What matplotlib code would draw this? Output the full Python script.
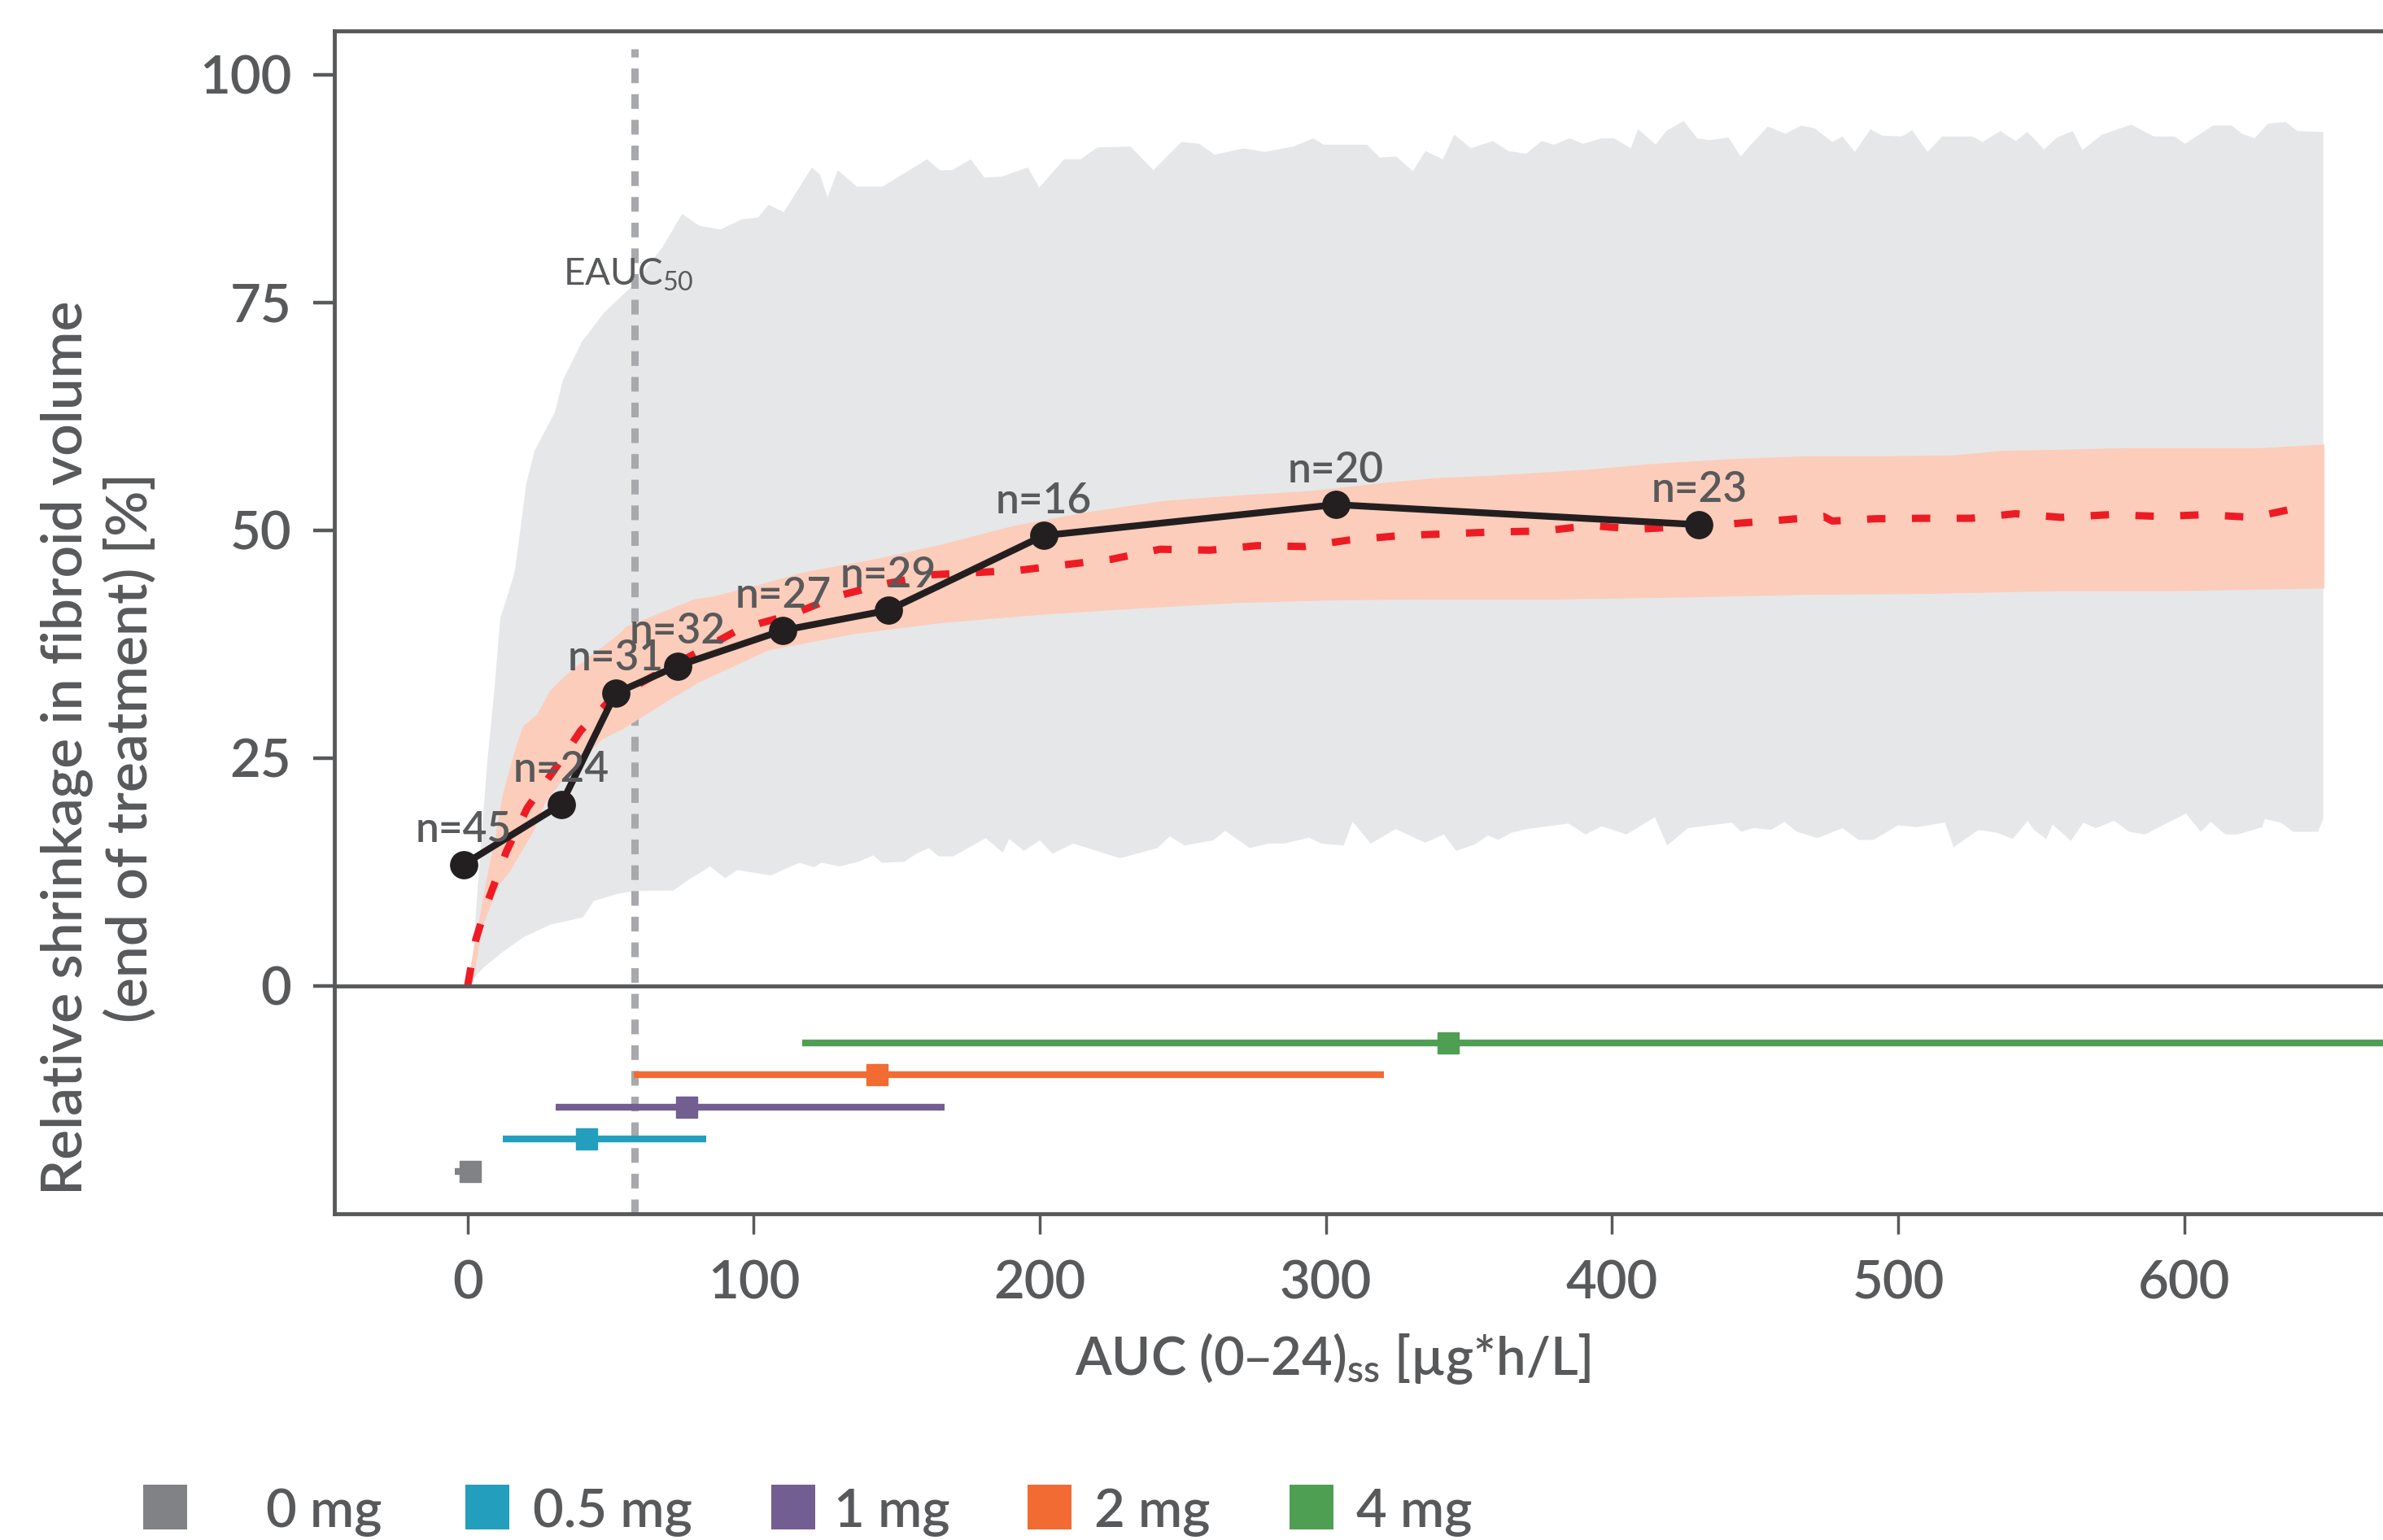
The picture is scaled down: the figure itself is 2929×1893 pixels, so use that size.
import numpy as np
import matplotlib
matplotlib.use("Agg")
import matplotlib.pyplot as plt
from matplotlib.patches import Rectangle

plt.rcParams['font.family'] = ['Lato', 'DejaVu Sans']
plt.rcParams['mathtext.default'] = 'regular'

TXT = "#58595b"

# simulated 90% interval (grey) - upper / lower edge
gray_upper = [(0, 0), (2, 4), (4.5, 15), (7, 25), (9.5, 33), (11.4, 40.3), (12.3, 41.2), (15.6, 44.5),
              (16.6, 45.7), (20.5, 55.1), (23.4, 58.7), (30.6, 63), (33.2, 66.4), (40, 70.7), (47.5, 73.8),
              (57.5, 76.8), (68, 81), (75, 84.7), (81, 83.4), (88.5, 83), (95.7, 84.1), (101.5, 84.3),
              (105.1, 85.7), (110.5, 84.9), (120.3, 89.8), (123.2, 89.0), (125.8, 86.5), (129.4, 89.5),
              (136, 87.7), (145, 87.7), (160.6, 90.7), (165, 89.5), (169.3, 89.5), (175.9, 90.7),
              (180.6, 88.7), (186.7, 88.8), (195.8, 89.8), (199.8, 87.6), (208.5, 90.7), (214.3, 90.7),
              (220.1, 92.0), (231.7, 92.1), (239.7, 89.5), (249.5, 92.6), (255.7, 92.4), (261.1, 91.2),
              (271.3, 91.9), (278.5, 91.5), (288.7, 92.1), (295.6, 93.0), (299.2, 92.3), (314.4, 92.3),
              (318.8, 90.9), (324.6, 91.0), (330.4, 89.4), (334.8, 91.6), (340.9, 90.7), (344.9, 93.4),
              (350.7, 91.9), (358.3, 92.7), (363.8, 91.6), (370, 91.3), (375.4, 92.7), (379.7, 92.3),
              (385.2, 93.0), (389.9, 92.4), (396.4, 93.0), (400.8, 93.0), (406.6, 91.9), (409.1, 94.0),
              (415.3, 92.3), (418.9, 93.8), (425.1, 94.9), (429.8, 93.0), (434.2, 92.8), (440.7, 93.1),
              (445, 91.0), (448, 92.1), (454.5, 94.3), (460.6, 93.5), (466.1, 94.4), (470.8, 94.1),
              (477, 92.6), (480.6, 93.2), (484.9, 91.5), (490.4, 94.0), (494.4, 93.3), (501.3, 93.2),
              (504.9, 93.9), (510.3, 91.5), (515.4, 93.2), (525.9, 93.2), (529.6, 92.6), (535.7, 93.8),
              (541.2, 92.7), (545.2, 93.7), (551, 91.8), (555.7, 93.1), (561.1, 93.8), (564.4, 91.7),
              (571.3, 93.4), (581.5, 94.5), (589.4, 93.2), (596.7, 93.2), (600.3, 92.4), (610.1, 94.4),
              (616.6, 94.4), (620.3, 93.5), (624.6, 93.0), (629.3, 94.6), (635.5, 94.8), (639.5, 93.8),
              (648.6, 93.7)]
gray_lower = [(0, 0), (5.2, 1.9), (11.8, 3.6), (19.4, 5.3), (28.9, 6.7), (40.3, 7.5), (44.1, 9.3),
              (52.6, 10.1), (58.5, 10.4), (71.9, 10.45), (77.1, 11.6), (84.8, 13.1), (90, 11.8), (94.3, 12.7),
              (106, 12.1), (115.9, 13.5), (121.1, 13.0), (123.7, 13.5), (130.1, 13.1), (136.6, 13.6),
              (141.8, 14.3), (144.8, 13.5), (152.6, 13.6), (156.9, 14.5), (161.2, 15.1), (164.7, 14.2),
              (169.8, 14.2), (181.1, 16.2), (187.1, 14.6), (189.3, 16.1), (194.4, 14.8), (200, 15.95),
              (204.4, 14.5), (211.7, 15.6), (228.1, 14.0), (241.1, 15.1), (245.4, 16.4), (250.6, 15.4),
              (260.5, 15.95), (264.8, 17.0), (273.4, 15.1), (279.9, 15.6), (285.5, 15.6), (294.1, 16.25),
              (298.5, 15.6), (306.2, 15.4), (309.3, 18.0), (315.7, 15.6), (324.4, 17.2), (334.7, 15.7),
              (341.2, 16.6), (345.5, 14.8), (352, 15.5), (356.7, 16.5), (360.2, 16.0), (364.9, 16.8),
              (370.5, 17.2), (384.8, 17.8), (390.8, 16.6), (396.4, 17.5), (405.1, 16.6), (415, 18.5),
              (419.3, 15.4), (426.6, 17.3), (441.8, 17.9), (445.2, 16.9), (449.5, 17.3), (455.6, 17.1),
              (460.3, 18.0), (464.6, 16.9), (471.9, 16.2), (480.6, 17.3), (486.2, 16.0), (491.4, 16.0),
              (500, 17.6), (506.5, 17.4), (516.4, 17.9), (519.4, 15.2), (528.1, 17.1), (534.5, 16.8),
              (540.1, 16.1), (545.3, 18.1), (547.5, 17.1), (551.8, 16.1), (554, 17.7), (560.4, 15.9),
              (564.8, 17.9), (569.1, 17.3), (575.6, 18.1), (580.7, 16.9), (586.3, 16.6), (600.6, 18.9),
              (605.8, 16.9), (609.2, 18.0), (614.4, 16.6), (618.7, 16.6), (627.3, 17.4), (628.2, 18.3),
              (633.8, 17.9), (638.1, 16.9), (646.8, 16.9), (648.6, 18.3)]

# 90% CI of the median (salmon band)
ci_upper = [(0, 0), (3.3, 5.9), (6.2, 11.0), (9.9, 16.7), (12.3, 21.0), (17.1, 26.4), (19.4, 28.5),
            (24.2, 29.7), (28.9, 32.4), (33.7, 33.9), (38.4, 35.1), (46, 36.9), (52.6, 38.5), (55.5, 39.4),
            (69.7, 41.2), (79.2, 42.4), (85.7, 42.7), (100.8, 43.9), (118, 45.4), (144, 46.9), (165.5, 48.4),
            (191.4, 50.5), (217.3, 52.0), (243.2, 53.2), (269.1, 53.8), (295, 54.3), (320.9, 55.2),
            (338.2, 55.7), (359.7, 56.0), (390, 56.6), (415.8, 57.3), (441.7, 57.8), (467.6, 58.1),
            (493.6, 58.1), (519.4, 58.2), (536.7, 58.7), (554, 58.8), (579.9, 59.0), (605.8, 59.0),
            (627.3, 59.0), (649, 59.4)]
ci_lower = [(0, 0), (1.9, 0.4), (5.2, 6.5), (10.9, 11.0), (14.7, 12.5), (17.5, 14.0), (23.2, 17.0),
            (27, 20.0), (33.7, 22.8), (40.3, 24.9), (46.9, 27.0), (54.5, 28.2), (62.1, 29.7), (69.7, 31.2),
            (81, 33.3), (105.1, 36.8), (135.3, 38.6), (165.5, 39.8), (200, 40.7), (234.6, 41.4),
            (269.1, 42.0), (303.6, 42.3), (338.2, 42.4), (381.3, 42.4), (424.5, 42.6), (467.6, 42.9),
            (510.8, 43.0), (554, 43.3), (597.1, 43.3), (649, 43.6)]

# predicted median (red dashed)
median_pred = [(0, 0), (2.8, 5), (6.5, 8.8), (13.5, 14.7), (20.8, 19.5), (31, 24), (39.5, 28), (50, 31.4),
               (65, 34), (81, 36.7), (95.4, 39.2), (113, 40.7), (129.6, 42.8), (146, 44.1), (162, 45.1),
               (175, 45.3), (193, 45.6), (208.7, 46.2), (225, 46.8), (242, 47.9), (259.5, 47.8), (276, 48.3),
               (292.6, 48.2), (307.8, 48.9), (326, 49.4), (342.5, 49.6), (359, 49.8), (375.7, 49.9),
               (392.5, 50.5), (409, 50.1), (442, 50.7), (459, 51.1), (474, 51.5), (477, 51.0), (492, 51.25),
               (509, 51.3), (525.5, 51.3), (541, 51.8), (557, 51.4), (574, 51.7), (592, 51.5), (607, 51.7),
               (624, 51.4), (639, 52.4), (642, 52.6)]

# observed binned data
obs_x = [-1.4, 32.7, 51.7, 73.3, 110.2, 147.0, 201.3, 303.4, 430.4]
obs_y = [13.3, 19.9, 32.1, 35.1, 39.0, 41.2, 49.4, 52.8, 50.6]
obs_n = ["n=45", "n=24", "n=31", "n=32", "n=27", "n=29", "n=16", "n=20", "n=23"]

eauc50 = 58.4

# exposure by dose: median and range
doses = ["0 mg", "0.5 mg", "1 mg", "2 mg", "4 mg"]
dose_colors = ["#808285", "#239fbd", "#725e91", "#f26b32", "#4f9f52"]
dose_med = [1.0, 41.6, 76.5, 143.2, 342.6]
dose_lo = [-4.5, 12.2, 30.7, 58.2, 116.8]
dose_hi = [1.0, 83.5, 166.6, 320.2, 720.0]
dose_row = [-20.4, -16.8, -13.3, -9.8, -6.3]

fig = plt.figure(figsize=(29.29, 18.93), dpi=100)
ax = fig.add_axes([0.1403, 0.212, 0.8597, 0.768])

gu = np.array(gray_upper)
gl = np.array(gray_lower)
ax.fill(np.r_[gu[:, 0], gl[::-1, 0]], np.r_[gu[:, 1], gl[::-1, 1]], color="#e6e7e8", lw=0, zorder=1)

ax.axvline(eauc50, ymax=0.985, color="#a7a9ac", lw=6.5, dashes=(2.0, 1.5), zorder=2)

cu = np.array(ci_upper)
cl = np.array(ci_lower)
ax.fill(np.r_[cu[:, 0], cl[::-1, 0]], np.r_[cu[:, 1], cl[::-1, 1]], color="#fccdbb", lw=0, zorder=3)

mp = np.array(median_pred)
ax.plot(mp[:, 0], mp[:, 1], color="#ed1c24", lw=6.5, dashes=(2.5, 3.6), dash_capstyle="butt", zorder=4)

ax.plot(obs_x, obs_y, color="#231f20", lw=6, marker="o", ms=24, zorder=5)
for x, y, s in zip(obs_x, obs_y, obs_n):
    ax.annotate(s, (x, y), xytext=(0, 20), textcoords="offset points", ha="center", va="baseline",
                fontsize=37, fontweight="semibold", color=TXT, zorder=6)

ax.text(33.3, 76.9, "EAUC$_{50}$", fontsize=33, color=TXT, ha="left", va="baseline", zorder=6)

ax.axhline(0, color=TXT, lw=3.5, zorder=5)

for c, m, lo, hi, y in zip(dose_colors, dose_med, dose_lo, dose_hi, dose_row):
    ax.hlines(y, lo, hi, color=c, lw=6, zorder=5)
    ax.plot([m], [y], marker="s", ms=18.5, color=c, zorder=6)

ax.set_xlim(-46.6, 669.5)
ax.set_ylim(-25.0, 104.8)
ax.set_xticks([0, 100, 200, 300, 400, 500, 600])
ax.set_yticks([0, 25, 50, 75, 100])
ax.spines["right"].set_visible(False)
for s in ["left", "top", "bottom"]:
    ax.spines[s].set_color(TXT)
    ax.spines[s].set_linewidth(3.5)
ax.tick_params(axis="y", length=19, width=3.2, color=TXT, labelcolor=TXT, labelsize=47, pad=19)
ax.tick_params(axis="x", length=18, width=2.5, color=TXT, labelcolor=TXT, labelsize=47, pad=23)
for lab in ax.get_xticklabels() + ax.get_yticklabels():
    lab.set_fontweight("semibold")

fig.text(0.5593, 0.1071, "AUC (0–24)$_{ss}$ [µg*h/L]", ha="center", va="baseline",
         fontsize=47, fontweight="semibold", color=TXT)
fig.text(0.0413, 0.5145, "Relative shrinkage in fibroid volume\n(end of treatment) [%]",
         rotation=90, ha="center", va="center", multialignment="center", linespacing=1.25,
         fontsize=50, fontweight="semibold", color=TXT)

# legend
patch_x = [0.0601, 0.1953, 0.3237, 0.4312, 0.5411]
text_x = [0.1116, 0.2236, 0.3500, 0.4592, 0.5691]
for px, tx, c, lab in zip(patch_x, text_x, dose_colors, doses):
    fig.add_artist(Rectangle((px, 0.0069), 0.0184, 0.029, transform=fig.transFigure,
                             facecolor=c, edgecolor="none"))
    fig.text(tx, 0.0085, lab, ha="left", va="baseline", fontsize=47, fontweight="semibold", color=TXT)

fig.savefig("out.png", dpi=100)
